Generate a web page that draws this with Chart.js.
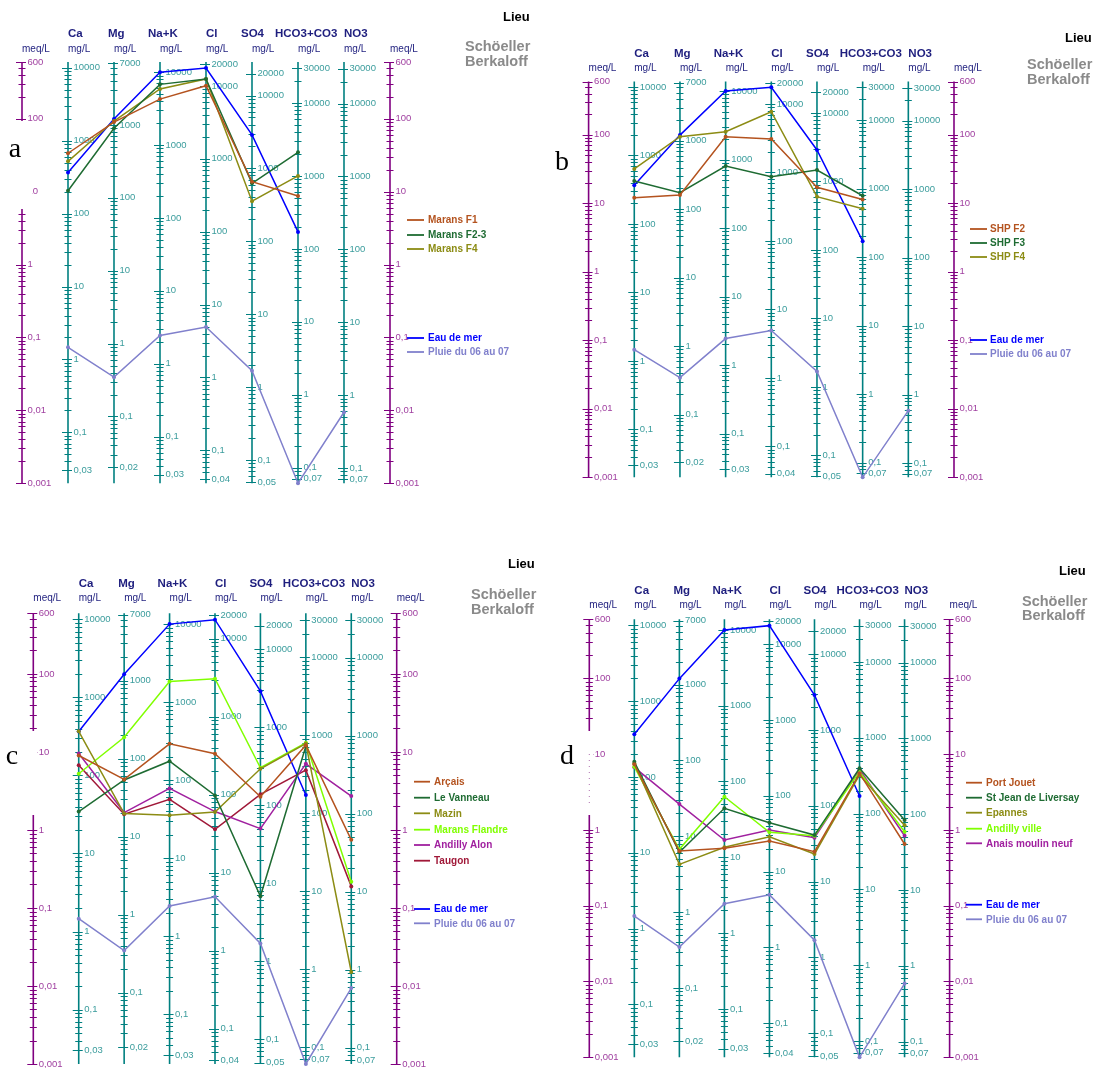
<!DOCTYPE html>
<html>
<head>
<meta charset="utf-8">
<script src="https://cdn.jsdelivr.net/npm/chart.js@4.4.1/dist/chart.umd.min.js"></script>
<style>
  body { margin: 0; background: #fff; width: 1096px; height: 1068px; position: relative; overflow: hidden; }
  canvas { position: absolute; }
</style>
</head>
<body>
<canvas id="chartA" width="548" height="534" style="left:0;top:0"></canvas>
<canvas id="chartB" width="548" height="534" style="left:548px;top:0"></canvas>
<canvas id="chartC" width="548" height="534" style="left:0;top:534px"></canvas>
<canvas id="chartD" width="548" height="534" style="left:548px;top:534px"></canvas>
<script>
// Ions on the Schoeller-Berkaloff diagram
const ions = ['Ca', 'Mg', 'Na+K', 'Cl', 'SO4', 'HCO3+CO3', 'NO3'];
// mg/L range printed on each ion axis, and equivalent weight (mg per meq)
const mgTop = [10000, 7000, 10000, 20000, 20000, 30000, 30000];
const mgBottom = [0.03, 0.02, 0.03, 0.04, 0.05, 0.07, 0.07];
const eqWeight = [20.04, 12.15, 22.99, 35.45, 48.03, 61.02, 62.0];
const meqMin = 0.001;
const meqMax = 600;

// Reference waters (meq/L), same in all four diagrams
const eauDeMer = [18.3, 99, 435, 495, 60, 2.8, null];
const pluie = [0.073, 0.0285, 0.106, 0.139, 0.035, 0.001, 0.0094];

// a - Marans boreholes (meq/L)
const maransF1 = [33.6, 90, 186, 284, 13.7, 8.7, null];
const maransF23 = [10.3, 74, 296, 351, 13.0, 34.6, null];
const maransF4 = [26, 93, 256, 351, 7.4, 16.4, null];

// b - SHP boreholes
const shpF2 = [12.1, 13.2, 93.8, 86.9, 17.1, 11.4, null];
const shpF3 = [21.1, 14.3, 35, 24.4, 30.6, 12.9, null];
const shpF4 = [31.7, 93.8, 111, 217, 12.5, 8.3, null];

// c
const arcais = [9.0, 4.44, 12.7, 9.5, 2.67, 12.2, 0.746];
const leVanneau = [1.72, 4.37, 7.6, 2.77, 0.141, 11.8, null];
const mazin = [18.4, 1.62, 1.54, 1.70, 6.08, 12.8, 0.0151];
const maransFlandre = [5.25, 15.4, 80, 86.7, 6.27, 13.1, 0.217];
const andillyAlon = [9.55, 1.67, 3.41, 1.72, 1.04, 7.05, 2.72];
const taugon = [6.77, 1.59, 2.47, 1.02, 2.86, 5.84, 0.189];

// d
const portJouet = [7.33, 0.526, 0.571, 0.713, 0.515, 5.57, 0.652];
const stJean = [7.93, 0.506, 1.93, 1.24, 0.855, 6.49, 1.35];
const epannes = [7.55, 0.351, 0.589, 0.813, 0.481, 5.3, 1.15];
const andillyVille = [6.8, 0.554, 2.74, 0.929, 0.838, 5.85, 0.946];
const anaisMoulin = [6.68, 2.19, 0.735, 0.995, 0.789, 6.3, 0.838];

const COL = {
  brown: '#b4531f', green: '#1e6b32', olive: '#8c8c14', lime: '#80ff00',
  purple: '#a0209f', red: '#a01838', blue: '#0000ff', rain: '#8080cc'
};
const NAVY = '#1e1e7e';
const TEAL = '#008080';
const TEAL_TXT = '#3a9c9c';
const PURP = '#800080';
const PURP_TXT = '#a040a0';
const SANS = "'Liberation Sans', Arial, sans-serif";

const panels = [
  {
    id: 'chartA', ox: 0, oy: 0,
    pad: { left: 22, top: 62, right: 158, bottom: 50.8 },
    series: [['Marans F1', maransF1, COL.brown], ['Marans F2-3', maransF23, COL.green], ['Marans F4', maransF4, COL.olive]],
    letter: { t: 'a', x: 15, y: 150 },
    lieu: { x: 503, y: 17 }, school: { x: 465, y: 47 },
    ionY: 34, unitY: 49.3,
    legend: { x0: 407, x1: 424, tx: 428, ys: [220, 235, 249], refYs: [338, 352] },
    gap: { x0: 8, x1: 32, y0: 121, y1: 209 }
  },
  {
    id: 'chartB', ox: 548, oy: 0,
    pad: { left: 40.6, top: 81.5, right: 142, bottom: 56.7 },
    series: [['SHP F2', shpF2, COL.brown], ['SHP F3', shpF3, COL.green], ['SHP F4', shpF4, COL.olive]],
    letter: { t: 'b', x: 562, y: 163 },
    lieu: { x: 1065, y: 38 }, school: { x: 1027, y: 65 },
    ionY: 54.3, unitY: 68.3,
    legend: { x0: 970, x1: 987, tx: 990, ys: [229, 243, 257], refYs: [340, 354] }
  },
  {
    id: 'chartC', ox: 0, oy: 534,
    pad: { left: 33.3, top: 79.2, right: 151.3, bottom: 2.4 },
    series: [['Arçais', arcais, COL.brown], ['Le Vanneau', leVanneau, COL.green], ['Mazin', mazin, COL.olive],
             ['Marans Flandre', maransFlandre, COL.lime], ['Andilly Alon', andillyAlon, COL.purple], ['Taugon', taugon, COL.red]],
    letter: { t: 'c', x: 12, y: 757 },
    lieu: { x: 508, y: 564 }, school: { x: 471, y: 595 },
    ionY: 584, unitY: 598.3,
    legend: { x0: 414, x1: 430, tx: 434, ys: [781.7, 797.7, 813.3, 829.7, 845, 860.7], refYs: [909, 923.3] },
    gap: { x0: 24, x1: 37, y0: 731, y1: 815 }
  },
  {
    id: 'chartD', ox: 548, oy: 534,
    pad: { left: 41.3, top: 85.3, right: 146.4, bottom: 10.7 },
    series: [['Port Jouet', portJouet, COL.brown], ['St Jean de Liversay', stJean, COL.green], ['Epannes', epannes, COL.olive],
             ['Andilly ville', andillyVille, COL.lime], ['Anais moulin neuf', anaisMoulin, COL.purple]],
    letter: { t: 'd', x: 567, y: 757 },
    lieu: { x: 1059, y: 571.7 }, school: { x: 1022, y: 601.7 },
    ionY: 590.7, unitY: 605,
    legend: { x0: 966, x1: 982, tx: 986, ys: [782.7, 797.7, 812.7, 828.7, 843.3], refYs: [904.7, 919.3] },
    gap: { x0: 578, x1: 593, y0: 731, y1: 815, dots: [754, 808] }
  }
];

// ion name offsets relative to its axis (as in the original layout)
const hdrOffset = [0, -6, -12, 0, -11, -23, 0];

function fmt(v) {
  return v >= 1 ? String(v) : String(v).replace('.', ',');
}

function logTicks(lo, hi) {
  const out = [];
  for (let k = Math.floor(Math.log10(lo)) - 1; k <= Math.ceil(Math.log10(hi)); k++) {
    for (let d = 1; d <= 9; d++) {
      const v = Number((d * Math.pow(10, k)).toPrecision(6));
      if (v >= lo * 0.999 && v <= hi * 1.001) out.push(v);
    }
  }
  return out;
}

function isPow10(v) {
  const l = Math.log10(v);
  return Math.abs(l - Math.round(l)) < 1e-9;
}

function drawAxis(ctx, x, yTop, yBot, ticks, toPix, lo, hi, lineCol, txtCol) {
  ctx.save();
  ctx.strokeStyle = lineCol;
  ctx.lineWidth = 1.6;
  ctx.beginPath();
  ctx.moveTo(x, yTop);
  ctx.lineTo(x, yBot);
  ctx.stroke();
  ctx.lineWidth = 1;
  ticks.forEach(v => {
    const y = Math.round(toPix(v)) + 0.5;
    const major = isPow10(v) || v === lo || v === hi;
    ctx.beginPath();
    ctx.moveTo(x - (major ? 6 : 3.5), y);
    ctx.lineTo(x + (major ? 4 : 3.5), y);
    ctx.stroke();
  });
  ctx.fillStyle = txtCol;
  ctx.font = '9.5px ' + SANS;
  ctx.textBaseline = 'middle';
  ctx.textAlign = 'left';
  ticks.forEach(v => {
    if (isPow10(v) || v === lo || v === hi) {
      ctx.fillText(fmt(v), x + 5.5, toPix(v));
    }
  });
  ctx.restore();
}

const schoellerPlugin = {
  id: 'schoeller',
  beforeDatasetsDraw(chart, args, opts) {
    const p = opts.panel;
    const ctx = chart.ctx;
    const xs = chart.scales.x, ys = chart.scales.y;
    const top = chart.chartArea.top, bot = chart.chartArea.bottom;

    // meq/L axes on both sides
    const meqT = logTicks(meqMin, meqMax);
    [0, 8].forEach(i => {
      drawAxis(ctx, xs.getPixelForValue(i), top, bot, meqT, v => ys.getPixelForValue(v),
        meqMin, meqMax, PURP, PURP_TXT);
    });
    // mg/L axes for each ion
    ions.forEach((ion, i) => {
      const t = logTicks(mgBottom[i], mgTop[i]);
      drawAxis(ctx, xs.getPixelForValue(i + 1), top, bot, t, v => ys.getPixelForValue(v / eqWeight[i]),
        mgBottom[i], mgTop[i], TEAL, TEAL_TXT);
    });

    // broken part of the left axis next to the panel letter
    if (p.gap) {
      const g = p.gap;
      ctx.save();
      ctx.fillStyle = '#fff';
      ctx.fillRect(g.x0 - p.ox, g.y0 - p.oy, g.x1 - g.x0, g.y1 - g.y0);
      if (g.dots) {
        const x = xs.getPixelForValue(0);
        ctx.strokeStyle = '#b070b0';
        ctx.lineWidth = 1;
        ctx.setLineDash([1, 5]);
        ctx.beginPath();
        ctx.moveTo(x, g.dots[0] - p.oy);
        ctx.lineTo(x, g.dots[1] - p.oy);
        ctx.stroke();
      }
      ctx.restore();
    }
  },
  afterDraw(chart, args, opts) {
    const p = opts.panel;
    const ctx = chart.ctx;
    const xs = chart.scales.x;
    ctx.save();
    ctx.textBaseline = 'middle';
    ctx.textAlign = 'left';

    // headers
    ctx.fillStyle = NAVY;
    ctx.font = 'bold 11.5px ' + SANS;
    ions.forEach((ion, i) => {
      ctx.fillText(ion, xs.getPixelForValue(i + 1) + hdrOffset[i], p.ionY - p.oy);
    });
    ctx.font = '10px ' + SANS;
    ions.forEach((ion, i) => ctx.fillText('mg/L', xs.getPixelForValue(i + 1), p.unitY - p.oy));
    ctx.fillText('meq/L', xs.getPixelForValue(0), p.unitY - p.oy);
    ctx.fillText('meq/L', xs.getPixelForValue(8), p.unitY - p.oy);

    // titles
    ctx.fillStyle = '#000';
    ctx.font = 'bold 13px ' + SANS;
    ctx.fillText('Lieu', p.lieu.x - p.ox, p.lieu.y - p.oy);
    ctx.fillStyle = '#8a8a8a';
    ctx.font = 'bold 14.5px ' + SANS;
    ctx.fillText('Schöeller', p.school.x - p.ox, p.school.y - p.oy);
    ctx.fillText('Berkaloff', p.school.x - p.ox, p.school.y + 14.5 - p.oy);

    // panel letter
    ctx.fillStyle = '#000';
    ctx.textAlign = 'center';
    ctx.font = '28px "Liberation Serif", "Times New Roman", serif';
    ctx.fillText(p.letter.t, p.letter.x - p.ox, p.letter.y - p.oy);

    // legend
    ctx.textAlign = 'left';
    ctx.font = 'bold 10px ' + SANS;
    const L = p.legend;
    const items = p.series.map((s, i) => [s[0], s[2], L.ys[i]])
      .concat([['Eau de mer', COL.blue, L.refYs[0]], ['Pluie du 06 au 07', COL.rain, L.refYs[1]]]);
    items.forEach(([name, col, y]) => {
      ctx.strokeStyle = col;
      ctx.lineWidth = 1.8;
      ctx.beginPath();
      ctx.moveTo(L.x0 - p.ox, y - p.oy);
      ctx.lineTo(L.x1 - p.ox, y - p.oy);
      ctx.stroke();
      ctx.fillStyle = col;
      ctx.fillText(name, L.tx - p.ox, y - p.oy + 0.5);
    });
    ctx.restore();
  }
};

function makeDataset(name, values, color) {
  return {
    label: name,
    data: [null, ...values, null],
    borderColor: color,
    backgroundColor: color,
    borderWidth: 1.5,
    pointRadius: 2,
    pointBorderWidth: 0,
    tension: 0,
    clip: false
  };
}

panels.forEach(p => {
  const datasets = p.series.map(s => makeDataset(s[0], s[1], s[2]));
  datasets.push(makeDataset('Eau de mer', eauDeMer, COL.blue));
  datasets.push(makeDataset('Pluie du 06 au 07', pluie, COL.rain));

  new Chart(document.getElementById(p.id), {
    type: 'line',
    data: { labels: ['meq/L', ...ions, 'meq/L '], datasets: datasets },
    options: {
      responsive: false,
      animation: false,
      devicePixelRatio: 1,
      layout: { padding: p.pad },
      scales: {
        x: { type: 'category', display: false },
        y: { type: 'logarithmic', min: meqMin, max: meqMax, display: false }
      },
      plugins: {
        legend: { display: false },
        tooltip: { enabled: false },
        schoeller: { panel: p }
      }
    },
    plugins: [schoellerPlugin]
  });
});
</script>
</body>
</html>
